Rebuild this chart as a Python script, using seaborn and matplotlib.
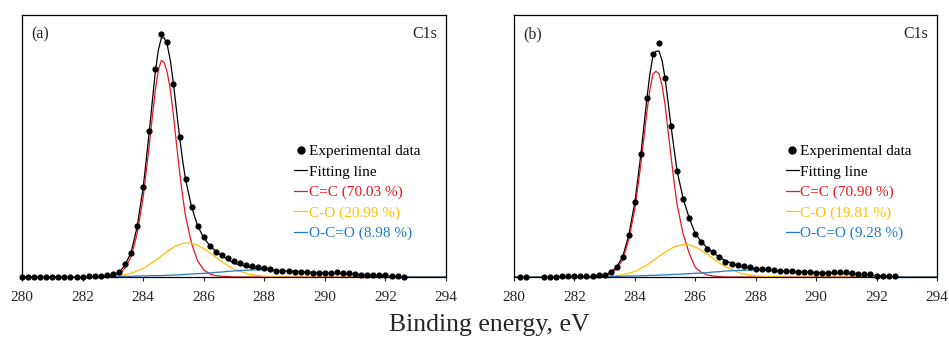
import matplotlib
matplotlib.use("Agg")
import matplotlib.pyplot as plt
from matplotlib.lines import Line2D
import seaborn as sns

sns.set_style("white")
plt.rcParams['font.family'] = ['Liberation Serif', 'DejaVu Serif']

# experimental points, panel (a)
exp_x_a = [280.0, 280.2, 280.4, 280.6, 280.8, 281.0, 281.2, 281.4, 281.6, 281.8,
           282.0, 282.2, 282.4, 282.6, 282.8, 283.0, 283.2, 283.4, 283.6, 283.8,
           284.0, 284.2, 284.4, 284.6, 284.8, 285.0, 285.2, 285.4, 285.6, 285.8,
           286.0, 286.2, 286.4, 286.6, 286.8, 287.0, 287.2, 287.4, 287.6, 287.8,
           288.0, 288.2, 288.4, 288.6, 288.8, 289.0, 289.2, 289.4, 289.6, 289.8,
           290.0, 290.2, 290.4, 290.6, 290.8, 291.0, 291.2, 291.4, 291.6, 291.8,
           292.0, 292.2, 292.4, 292.6]
exp_y_a = [0, 0, 0, 0, 0, 0, 0, 0, 0, 1,
           1, 2, 3, 4, 5, 9, 16, 38, 73, 152,
           270, 437, 623, 729, 706, 579, 421, 294, 211, 153,
           121, 93, 75, 67, 58, 49, 41, 35, 32, 29,
           28, 23, 19, 18, 18, 16, 15, 14, 13, 13,
           11, 12, 15, 13, 11, 9, 7, 6, 5, 5,
           5, 4, 2, 1]

# experimental points, panel (b)
exp_x_b = [280.2, 280.4,
           281.0, 281.2, 281.4, 281.6, 281.8, 282.0, 282.2, 282.4, 282.6, 282.8,
           283.0, 283.2, 283.4, 283.6, 283.8, 284.0, 284.2, 284.4, 284.6, 284.8,
           285.0, 285.2, 285.4, 285.6, 285.8, 286.0, 286.2, 286.4, 286.6, 286.8,
           287.0, 287.2, 287.4, 287.6, 287.8, 288.0, 288.2, 288.4, 288.6, 288.8,
           289.0, 289.2, 289.4, 289.6, 289.8, 290.0, 290.2, 290.4, 290.6, 290.8,
           291.0, 291.2, 291.4, 291.6, 291.8, 292.0, 292.2, 292.4, 292.6]
exp_y_b = [0, 0,
           0, 1, 1, 2, 2, 2, 3, 3, 4, 5,
           6, 14, 30, 61, 126, 224, 368, 536, 669, 701,
           597, 452, 317, 235, 177, 130, 106, 84, 76, 59,
           45, 39, 35, 32, 30, 24, 23, 23, 20, 18,
           17, 17, 16, 15, 15, 12, 11, 13, 15, 15,
           14, 12, 10, 9, 8, 4, 3, 3, 3]

# fitted curves, sampled
fit_x = [280.0, 282.0, 282.5, 283.0, 283.2, 283.4, 283.6, 283.8,
         284.0, 284.1, 284.2, 284.3, 284.4, 284.5, 284.6, 284.7, 284.8, 284.9,
         285.0, 285.1, 285.2, 285.3, 285.4,
         285.6, 285.8, 286.0, 286.2, 286.4, 286.6, 286.8, 287.0,
         287.5, 288.0, 288.5, 289.0, 289.5, 290.0, 290.5, 291.0, 291.5, 292.0, 292.5, 293.0, 294.0]

fit_a = [0, 0, 1, 6, 13, 36, 73, 150,
         268, 350, 435, 525, 614, 680, 717, 717, 694, 648,
         580, 500, 422, 352, 292,
         210, 153, 118, 94, 77, 63, 52, 41,
         29, 24, 19, 17, 14, 12, 10, 8, 5, 3, 1, 0, 0]
cc_a = [0, 0, 1, 3, 8, 27, 60, 129,
        239, 316, 394, 478, 560, 620, 650, 642, 612, 560,
        485, 400, 318, 245, 182,
        100, 48, 22, 9, 4, 2, 1, 0,
        0, 0, 0, 0, 0, 0, 0, 0, 0, 0, 0, 0, 0]
co_a = [0, 0, 0, 2, 4, 7, 11, 18,
        26, 31, 37, 43, 50, 56, 63, 70, 77, 83,
        89, 94, 97, 100, 102,
        101, 95, 85, 73, 59, 46, 34, 23,
        8, 2, 0, 0, 0, 0, 0, 0, 0, 0, 0, 0, 0]
occo_a = [0, 0, 0, 1, 1, 2, 2, 3,
          3, 3, 4, 4, 4, 4, 4, 5, 5, 5,
          6, 6, 7, 7, 8,
          9, 10, 11, 12, 14, 15, 17, 18,
          21, 22, 19, 17, 14, 12, 10, 8, 5, 3, 1, 0, 0]

fit_b = [0, 0, 1, 6, 14, 30, 61, 126,
         224, 295, 368, 452, 536, 610, 663, 677, 678, 650,
         597, 525, 452, 383, 317,
         235, 177, 130, 106, 87, 73, 59, 49,
         31, 24, 20, 17, 15, 13, 12, 10, 7, 4, 1, 0, 0]
cc_b = [0, 0, 1, 4, 11, 24, 52, 112,
        204, 271, 338, 417, 496, 563, 609, 617, 610, 576,
        517, 438, 360, 285, 216,
        129, 71, 29, 14, 6, 3, 1, 0,
        0, 0, 0, 0, 0, 0, 0, 0, 0, 0, 0, 0, 0]
co_b = [0, 0, 0, 1, 2, 4, 7, 11,
        17, 21, 26, 31, 36, 42, 49, 55, 62, 68,
        74, 80, 85, 90, 93,
        97, 96, 90, 80, 68, 55, 42, 31,
        11, 3, 1, 0, 0, 0, 0, 0, 0, 0, 0, 0, 0]
occo_b = [0, 0, 0, 1, 1, 2, 2, 3,
          3, 3, 4, 4, 4, 5, 5, 5, 6, 6,
          6, 7, 7, 8, 8,
          9, 10, 11, 12, 13, 15, 16, 18,
          20, 21, 19, 17, 15, 13, 12, 10, 7, 4, 1, 0, 0]

pct_a = ["70.03", "20.99", "8.98"]
pct_b = ["70.90", "19.81", "9.28"]
xticks = [280, 282, 284, 286, 288, 290, 292, 294]

RED = "#E8161E"
YEL = "#FFC000"
BLU = "#1F78C8"


def xps_panel(ax, tag, ex, ey, fit, cc, co, occo, pct):
    sns.lineplot(x=fit_x, y=fit, ax=ax, color="black", linewidth=0.9, estimator=None)
    sns.lineplot(x=fit_x, y=cc, ax=ax, color=RED, linewidth=0.9, estimator=None)
    sns.lineplot(x=fit_x, y=co, ax=ax, color=YEL, linewidth=0.9, estimator=None)
    sns.lineplot(x=fit_x, y=occo, ax=ax, color=BLU, linewidth=0.9, estimator=None)
    sns.scatterplot(x=ex, y=ey, ax=ax, color="black", s=20, linewidth=0,
                    zorder=5, clip_on=False)

    ax.set_xlim(280, 294)
    ax.set_ylim(0, 786)
    ax.set_xticks(xticks)
    ax.set_yticks([])
    ax.tick_params(axis="x", direction="out", length=3, width=0.8,
                   pad=7, labelsize=11, bottom=True)
    for sp in ax.spines.values():
        sp.set_color("black")
        sp.set_linewidth(0.9)

    ax.text(0.022, 0.927, tag, transform=ax.transAxes, fontsize=11.5,
            ha="left", va="center")
    ax.text(0.98, 0.927, "C1s", transform=ax.transAxes, fontsize=11.5,
            ha="right", va="center")

    handles = [
        Line2D([], [], marker="o", linestyle="none", color="black", markersize=5),
        Line2D([], [], color="black", linewidth=0.9),
        Line2D([], [], color=RED, linewidth=0.9),
        Line2D([], [], color=YEL, linewidth=0.9),
        Line2D([], [], color=BLU, linewidth=0.9),
    ]
    labels = ["Experimental data", "Fitting line",
              "C=C (%s %%)" % pct[0], "C-O (%s %%)" % pct[1], "O-C=O (%s %%)" % pct[2]]
    leg = ax.legend(handles, labels, loc="upper left", bbox_to_anchor=(0.642, 0.506),
                    frameon=False, fontsize=11, handlelength=0.85, handletextpad=0.1,
                    labelspacing=0.44, borderpad=0, borderaxespad=0)
    for txt, c in zip(leg.get_texts(), ["black", "black", RED, YEL, BLU]):
        txt.set_color(c)


fig = plt.figure(figsize=(9.49, 3.4), dpi=100)
ax_a = fig.add_axes([0.0232, 0.1853, 0.4468, 0.7706])
ax_b = fig.add_axes([0.5416, 0.1853, 0.4457, 0.7706])

xps_panel(ax_a, "(a)", exp_x_a, exp_y_a, fit_a, cc_a, co_a, occo_a, pct_a)
xps_panel(ax_b, "(b)", exp_x_b, exp_y_b, fit_b, cc_b, co_b, occo_b, pct_b)

fig.text(0.516, 0.044, "Binding energy, eV", ha="center", va="center", fontsize=18.5)

fig.savefig("out.png", dpi=100)
